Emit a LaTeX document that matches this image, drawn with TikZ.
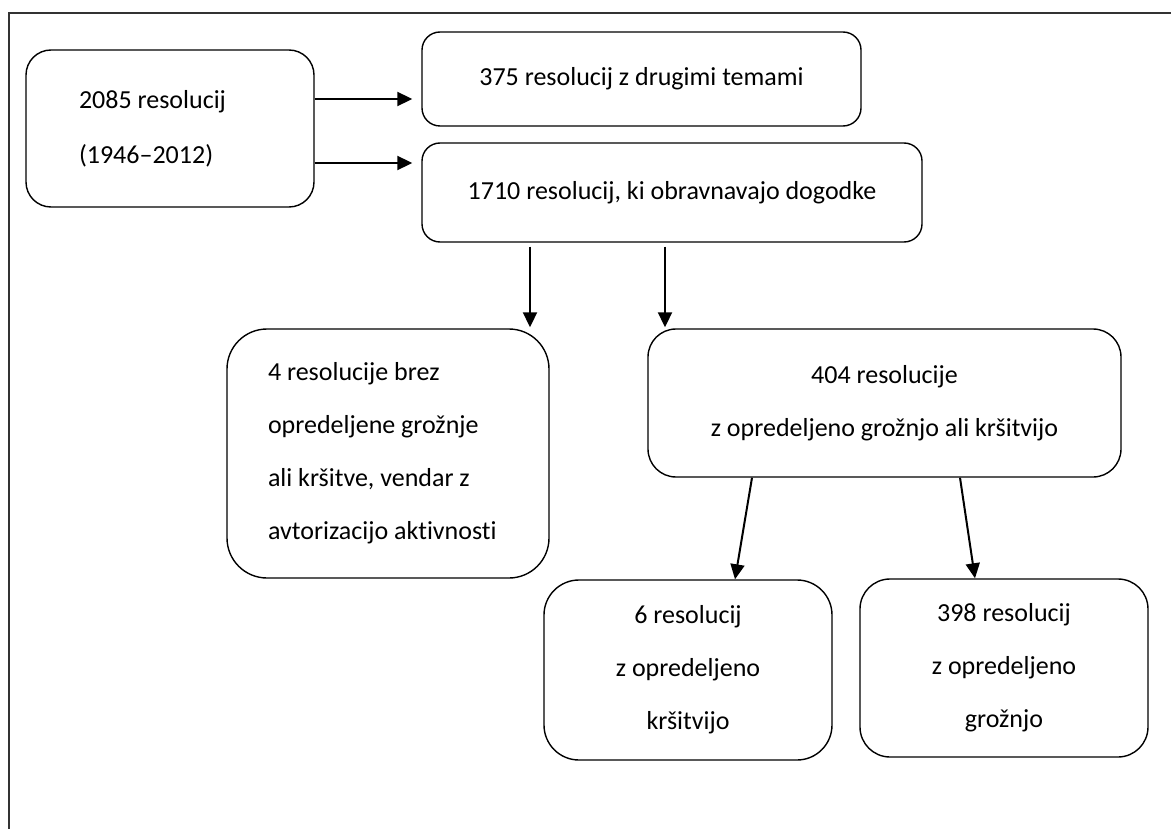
\documentclass[tikz,border=0pt]{standalone}
\usepackage{fontspec}
\setmainfont{Carlito}[Ligatures=NoCommon]
\usetikzlibrary{arrows.meta,calc}
\begin{document}
\begin{tikzpicture}[x=1pt,y=-1pt,
  box/.style={draw, line width=1.4pt, inner sep=0pt, font=\fontsize{26}{53}\selectfont},
  arr/.style={-{Triangle[length=15pt,width=14pt]}, line width=2pt}]
\useasboundingbox (0,0) rectangle (1171,829);
\draw[line width=1.5pt, black!80] (9,829) -- (9,13) -- (1171,13);

\node[box, rounded corners=25pt, minimum width=288pt, minimum height=157pt,
      text width=182pt, align=flush left, font=\fontsize{26}{55}\selectfont]
      (A) at (170,128.5) {2085 resolucij\\(1946–2012)};
\node[box, rounded corners=18pt, minimum width=439pt, minimum height=94pt, align=center]
      (B) at (641.5,79) {375 resolucij z drugimi temami};
\node[box, rounded corners=18pt, minimum width=500pt, minimum height=99pt, align=center]
      (C) at (672,192.5) {1710 resolucij, ki obravnavajo dogodke};
\node[box, rounded corners=40pt, minimum width=322pt, minimum height=249pt,
      text width=240pt, align=flush left]
      (D) at (388,453.5) {\mbox{4 resolucije brez}\\\mbox{opredeljene grožnje}\\\mbox{ali kršitve, vendar z}\\\mbox{avtorizacijo aktivnosti}};
\node[box, rounded corners=28pt, minimum width=473pt, minimum height=148pt, align=center]
      (E) at (884.5,403) {404 resolucije\\z opredeljeno grožnjo ali kršitvijo};
\node[box, rounded corners=35pt, minimum width=288pt, minimum height=180pt, align=center]
      (F) at (688,670) {6 resolucij\\z opredeljeno\\kršitvijo};
\node[box, rounded corners=30pt, minimum width=288pt, minimum height=178pt, align=center]
      (G) at (1004,668) {398 resolucij\\z opredeljeno\\grožnjo};

% A -> B, A -> C
\coordinate (a1) at ([yshift=29.5pt]A.east);
\coordinate (a2) at ([yshift=-34.5pt]A.east);
\draw[arr, shorten >=9pt] (a1) -- (a1 -| B.west);
\draw[arr, shorten >=9pt] (a2) -- (a2 -| C.west);

% C -> D, C -> E
\coordinate (c1) at ([xshift=-142pt]C.south);
\coordinate (c2) at ([xshift=-7pt]C.south);
\draw[arr, shorten <=4pt, shorten >=1pt] (c1) -- (c1 |- D.north);
\draw[arr, shorten <=4pt, shorten >=1pt] (c2) -- (c2 |- E.north);

% E -> F, E -> G
\draw[arr] ([xshift=-132.5pt]E.south) -- ([xshift=47pt]F.north);
\draw[arr] ([xshift=75.5pt]E.south) -- ([xshift=-29pt]G.north);
\end{tikzpicture}
\end{document}
